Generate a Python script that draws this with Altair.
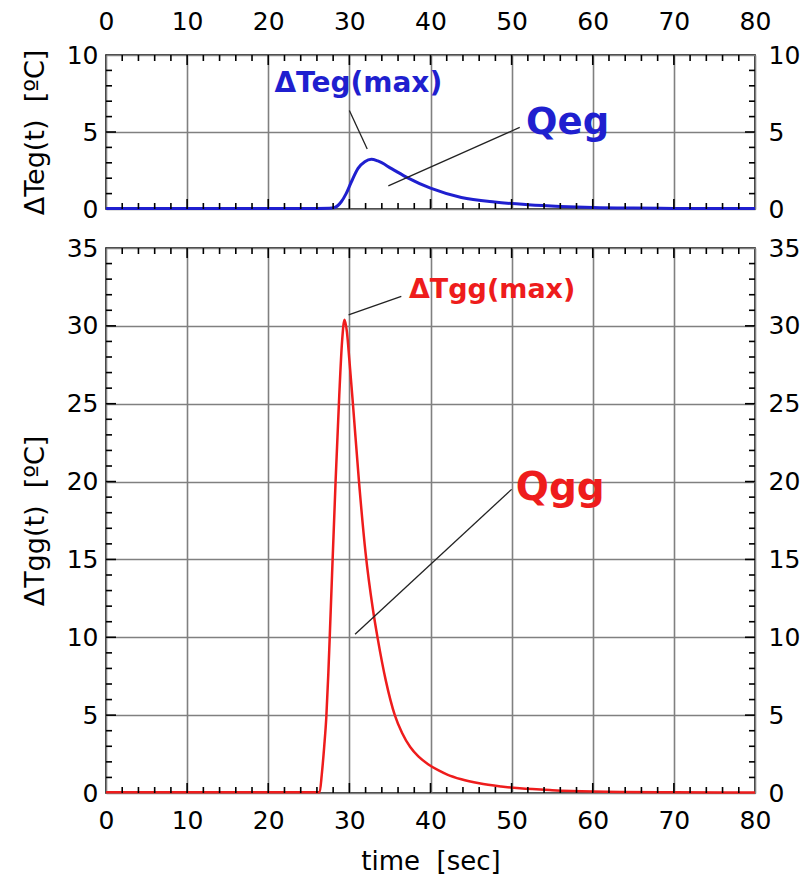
import altair as alt
import pandas as pd

# ---------------- data ----------------
teg_t = [0, 10, 20, 26, 27.5, 28.2, 29.0, 29.6, 30.25, 31.07, 31.9, 32.7, 33.5, 35.2, 37.2, 40.0,
         43.8, 47.9, 52.0, 56, 60, 65, 70, 80]
teg_v = [0.03, 0.03, 0.03, 0.04, 0.05, 0.1, 0.47, 1.0, 1.77, 2.64, 3.07, 3.23, 3.12, 2.62, 2.02, 1.35,
         0.75, 0.45, 0.28, 0.17, 0.1, 0.06, 0.04, 0.03]

tgg_t = [0, 10, 20, 26.34, 26.6, 26.9, 27.16, 27.4, 27.57, 28.3, 28.75, 29.1, 29.4, 29.7, 30.0,
         30.45, 31.2, 32.0, 32.9, 33.5, 34.5, 35.6, 36.5, 37.5, 38.5, 39.7, 41.0, 42.0, 43.8, 46.0,
         48.7, 51.0, 55.0, 60.0, 70.0, 80.0]
tgg_v = [0.05, 0.05, 0.05, 0.05, 1.2, 3.0, 4.9, 7.6, 9.9, 20.0, 25.5, 29.0, 30.4, 29.6, 27.8,
         24.9, 19.9, 15.4, 11.8, 9.9, 7.2, 5.0, 3.85, 2.95, 2.35, 1.85, 1.45, 1.2, 0.88, 0.62,
         0.42, 0.3, 0.18, 0.1, 0.05, 0.03]

x_major = [10, 20, 30, 40, 50, 60, 70]
x_minor = [2, 4, 6, 8, 12, 14, 16, 18, 22, 24, 26, 28, 32, 34, 36, 38, 42, 44, 46, 48,
           52, 54, 56, 58, 62, 64, 66, 68, 72, 74, 76, 78]
x_labels = [0, 10, 20, 30, 40, 50, 60, 70, 80]

top_y_labels = [0, 5, 10]
top_y_major = [5]
top_y_minor = [1, 2, 3, 4, 6, 7, 8, 9]

bot_y_labels = [0, 5, 10, 15, 20, 25, 30, 35]
bot_y_major = [5, 10, 15, 20, 25, 30]
bot_y_minor = [1, 2, 3, 4, 6, 7, 8, 9, 11, 12, 13, 14, 16, 17, 18, 19, 21, 22, 23, 24,
               26, 27, 28, 29, 31, 32, 33, 34]

# annotations: label text, position, leader line
top_ann_text = ["ΔTeg(max)", "Qeg"]
top_ann_x = [31.1, 56.9]
top_ann_y = [8.1, 5.6]
top_ann_size = [28, 37]
top_lead_x1 = [30.0, 34.8]
top_lead_y1 = [6.4, 1.5]
top_lead_x2 = [32.2, 51.0]
top_lead_y2 = [3.9, 5.3]

bot_ann_text = ["ΔTgg(max)", "Qgg"]
bot_ann_x = [47.6, 56.0]
bot_ann_y = [32.3, 19.6]
bot_ann_size = [27, 39]
bot_lead_x1 = [29.9, 30.7]
bot_lead_y1 = [30.7, 10.2]
bot_lead_x2 = [36.4, 50.0]
bot_lead_y2 = [31.9, 19.5]

W = 649
FONT = "DejaVu Sans"
GRID = "#808080"


def panel(t, v, color, H, ymax, ylabels, ymaj, ymin, ytitle, xorient, xtitle, xpad,
          ann_text, ann_x, ann_y, ann_size, lx1, ly1, lx2, ly2, lwidth):
    xs = alt.Scale(domain=[0, 80], nice=False, zero=False)
    ys = alt.Scale(domain=[0, ymax], nice=False)
    df = pd.DataFrame({"t": t, "v": v})

    xaxis = alt.Axis(values=x_labels, orient=xorient, grid=True, gridColor=GRID, gridWidth=1.6,
                     ticks=False, domain=False, labelFlush=False, labelPadding=xpad,
                     format="d", labelFont=FONT, labelFontSize=25, labelColor="black",
                     title=xtitle if xtitle else "", titleFont=FONT, titleFontSize=26,
                     titleFontWeight="normal", titleColor="black", titlePadding=15)
    line = alt.Chart(df).mark_line(color=color, strokeWidth=lwidth, interpolate="monotone").encode(
        x=alt.X("t:Q", scale=xs, axis=xaxis),
        y=alt.Y("v:Q", scale=ys, axis=alt.Axis(values=ylabels, grid=True, gridColor=GRID,
                                               gridWidth=1.6, ticks=False, domain=False,
                                               labelPadding=8, title=ytitle, titlePadding=17,
                                               format="d", labelFont=FONT, labelFontSize=25,
                                               labelColor="black", titleFont=FONT,
                                               titleFontSize=27, titleFontWeight="normal",
                                               titleColor="black")),
    )
    right = alt.Chart(pd.DataFrame({"v": ylabels})).mark_point(opacity=0).encode(
        y=alt.Y("v:Q", scale=ys, axis=alt.Axis(values=ylabels, orient="right", grid=False,
                                               ticks=False, domain=False, labelPadding=13,
                                               title=None, format="d", labelFont=FONT,
                                               labelFontSize=25, labelColor="black")),
    )

    layers = [line, right]
    xmaj = pd.DataFrame({"t": x_major})
    xmin = pd.DataFrame({"t": x_minor})
    ymj = pd.DataFrame({"v": ymaj})
    ymn = pd.DataFrame({"v": ymin})
    for d, L in ((xmaj, 10), (xmin, 6)):
        for y0, y1 in ((H, H - L), (0, L)):
            layers.append(alt.Chart(d).mark_rule(color="black", strokeWidth=1.6).encode(
                x=alt.X("t:Q", scale=xs, axis=xaxis), y=alt.value(y0), y2=alt.value(y1)))
    for d, L in ((ymj, 10), (ymn, 6)):
        for x0, x1 in ((0, L), (W, W - L)):
            layers.append(alt.Chart(d).mark_rule(color="black", strokeWidth=1.6).encode(
                y=alt.Y("v:Q", scale=ys, axis=None), x=alt.value(x0), x2=alt.value(x1)))

    lead = pd.DataFrame({"x1": lx1, "y1": ly1, "x2": lx2, "y2": ly2})
    layers.append(alt.Chart(lead).mark_rule(color="#222222", strokeWidth=1.3).encode(
        x=alt.X("x1:Q", scale=xs, axis=xaxis), x2="x2:Q",
        y=alt.Y("y1:Q", scale=ys, axis=None), y2="y2:Q"))

    ann = pd.DataFrame({"label": ann_text, "x": ann_x, "y": ann_y})
    for i in range(len(ann_text)):
        layers.append(alt.Chart(ann.iloc[[i]]).mark_text(
            font=FONT, fontWeight="bold", fontSize=ann_size[i], color=color,
            align="center", baseline="middle").encode(
            x=alt.X("x:Q", scale=xs, axis=xaxis),
            y=alt.Y("y:Q", scale=ys, axis=None),
            text="label:N"))

    return alt.layer(*layers).resolve_axis(y="independent").properties(width=W, height=H)


top = panel(teg_t, teg_v, "#1f1fcf", 154, 10, top_y_labels, top_y_major, top_y_minor,
            "ΔTeg(t)\u00a0\u00a0[ºC]", "top", None, 21,
            top_ann_text, top_ann_x, top_ann_y, top_ann_size,
            top_lead_x1, top_lead_y1, top_lead_x2, top_lead_y2, 3)
bottom = panel(tgg_t, tgg_v, "#ee1c1c", 545, 35, bot_y_labels, bot_y_major, bot_y_minor,
               "ΔTgg(t)\u00a0\u00a0[ºC]", "bottom", "time\u00a0\u00a0[sec]", 15,
               bot_ann_text, bot_ann_x, bot_ann_y, bot_ann_size,
               bot_lead_x1, bot_lead_y1, bot_lead_x2, bot_lead_y2, 2.5)

chart = alt.vconcat(top, bottom, spacing=12).properties(
    padding={"left": 12, "top": 0, "right": 0, "bottom": 0}
).configure_view(stroke="black", strokeWidth=1.6)

chart.save("out.html", embed_options={"renderer": "svg", "actions": False})
